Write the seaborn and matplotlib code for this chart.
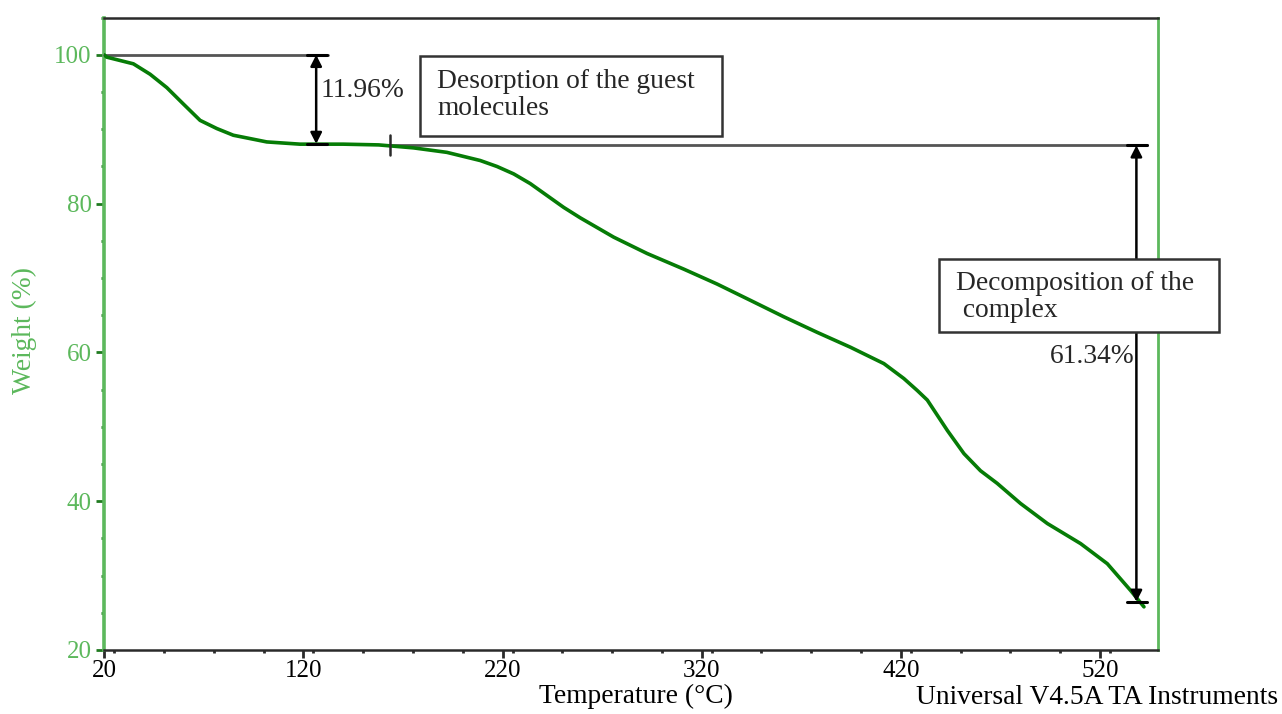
import matplotlib
matplotlib.use("Agg")
import matplotlib.pyplot as plt
import seaborn as sns
import pandas as pd
from matplotlib.patches import Rectangle
from matplotlib.ticker import MultipleLocator

# ---------------- data ----------------
temperature = [20, 21.2, 34.6, 43, 51.4, 59.7, 68.1, 76.5, 84.8, 101.6, 118.3, 140,
               157.8, 175.3, 192, 208.8, 217.2, 225.6, 233.9, 242.3, 250.7, 259,
               275.8, 292.6, 311, 327.7, 344.5, 361.2, 378, 394.7, 411.5, 421.5,
               428.2, 433.3, 443.4, 451.7, 460, 468.4, 480.1, 493.6, 510.3, 523.7,
               535.4, 542.1]
weight = [100, 99.7, 98.8, 97.4, 95.6, 93.4, 91.2, 90.1, 89.2, 88.3, 88.0, 88.0,
          87.9, 87.5, 86.9, 85.8, 85.0, 84.0, 82.7, 81.1, 79.5, 78.1,
          75.5, 73.3, 71.2, 69.2, 67.0, 64.8, 62.7, 60.7, 58.5, 56.5,
          54.9, 53.6, 49.5, 46.4, 44.1, 42.4, 39.7, 37.0, 34.3, 31.6,
          28.0, 25.8]

x_ticks = [20, 120, 220, 320, 420, 520]
y_ticks = [20, 40, 60, 80, 100]

# annotation values
step1_loss = 11.96
step2_loss = 61.34
step1_x = 126.4          # vertical arrow position of the first step
step1_top = 100.0
step2_x = 538.3
step2_top = 87.83
step2_start_x = 163.6
box1_text = "Desorption of the guest\nmolecules"
box2_text = "Decomposition of the\n complex"

# ---------------- styling ----------------
sns.set_theme(style="white")
plt.rcParams['font.family'] = ['Liberation Serif', 'DejaVu Serif']

light_green = '#5cb85c'
curve_green = '#067c06'
dark = '#2a2a2a'
gray_line = '#555555'
FS = 19.8
TFS = 18

fig = plt.figure(figsize=(12.82, 7.14), dpi=100)
ax = fig.add_axes([104.3 / 1282, 1 - 650 / 714, (1157.7 - 104.3) / 1282, (650 - 17.7) / 714])

df = pd.DataFrame({"Temperature": temperature, "Weight": weight})
sns.lineplot(data=df, x="Temperature", y="Weight", ax=ax, color=curve_green,
             lw=2.6, zorder=3, sort=False, solid_joinstyle='round', solid_capstyle='round')

ax.set_xlim(20, 549)
ax.set_ylim(20, 105)
ax.set_xticks(x_ticks)
ax.set_yticks(y_ticks)
ax.xaxis.set_minor_locator(MultipleLocator(25))
ax.yaxis.set_minor_locator(MultipleLocator(5))

ax.tick_params(axis='y', which='major', direction='out', length=6, width=2,
               color='#1f7a1f', labelcolor=light_green, labelsize=TFS, pad=3, left=True)
ax.tick_params(axis='y', which='minor', direction='out', length=2.5, width=2,
               color='#1f7a1f', left=True)
ax.tick_params(axis='x', which='major', direction='out', length=6, width=2,
               color=dark, labelcolor='black', labelsize=TFS, pad=1.5, bottom=True)
ax.tick_params(axis='x', which='minor', direction='out', length=2.5, width=2,
               color=dark, bottom=True)

for side in ['top', 'bottom']:
    ax.spines[side].set_color(dark)
    ax.spines[side].set_linewidth(1.8)
ax.spines['left'].set_color(light_green)
ax.spines['left'].set_linewidth(2.6)
ax.spines['right'].set_color(light_green)
ax.spines['right'].set_linewidth(2.0)
for s in ax.spines.values():
    s.set_visible(True)
    s.set_zorder(1)

ax.set_xlabel("Temperature (°C)", fontsize=FS, color='black', va='center')
ax.xaxis.set_label_coords(0.505, -0.074)
ax.set_ylabel("Weight (%)", fontsize=FS, color=light_green, va='center')
ax.yaxis.set_label_coords(-0.076, 0.506)

fig.text(1278 / 1282, 1 - 704 / 714, "Universal V4.5A TA Instruments",
         fontsize=FS, ha='right', va='baseline', color='black')

# ---------------- annotations ----------------
step1_bottom = step1_top - step1_loss
step2_bottom = step2_top - step2_loss
arrow_style = dict(arrowstyle='<|-|>,head_length=0.55,head_width=0.28',
                   color='black', lw=1.8, shrinkA=0, shrinkB=0)

# first step
ax.plot([20, 132.4], [step1_top, step1_top], color=gray_line, lw=2, zorder=2, clip_on=False)
ax.plot([121.7, 131.8], [step1_top, step1_top], color='black', lw=2.2, zorder=4)
ax.plot([121.7, 131.8], [step1_bottom, step1_bottom], color='black', lw=2.2, zorder=4)
ax.annotate('', xy=(step1_x, step1_top), xytext=(step1_x, step1_bottom),
            arrowprops=arrow_style, zorder=4)
ax.text(128.4, 95.2, f"{step1_loss:.2f}%", fontsize=FS, ha='left', va='center', zorder=5)

# second step
ax.plot([step2_start_x, 543.5], [step2_top, step2_top], color=gray_line, lw=2, zorder=2)
ax.plot([step2_start_x, step2_start_x], [89.2, 86.6], color=dark, lw=1.8, zorder=4)
ax.plot([533.8, 543.8], [step2_top, step2_top], color='black', lw=2.2, zorder=4)
ax.plot([533.8, 543.8], [step2_bottom, step2_bottom], color='black', lw=2.2, zorder=4)
ax.annotate('', xy=(step2_x, step2_top), xytext=(step2_x, step2_bottom),
            arrowprops=arrow_style, zorder=4)
ax.text(537.2, 59.5, f"{step2_loss:.2f}%", fontsize=FS, ha='right', va='center', zorder=5)

# text boxes
ax.add_patch(Rectangle((178.6, 89.16), 330.4 - 178.6, 99.8 - 89.16, facecolor='white',
                       edgecolor='#333333', lw=1.8, zorder=6, clip_on=False))
ax.text(187.3, 94.6, box1_text, fontsize=FS, ha='left', va='center',
        linespacing=1.12, zorder=7)
ax.add_patch(Rectangle((439.0, 62.8), 579.6 - 439.0, 72.6 - 62.8, facecolor='white',
                       edgecolor='#333333', lw=1.8, zorder=6, clip_on=False))
ax.text(447.5, 67.5, box2_text, fontsize=FS, ha='left', va='center',
        linespacing=1.1, zorder=7, clip_on=False)

fig.savefig("out.png", dpi=100, facecolor='white')
